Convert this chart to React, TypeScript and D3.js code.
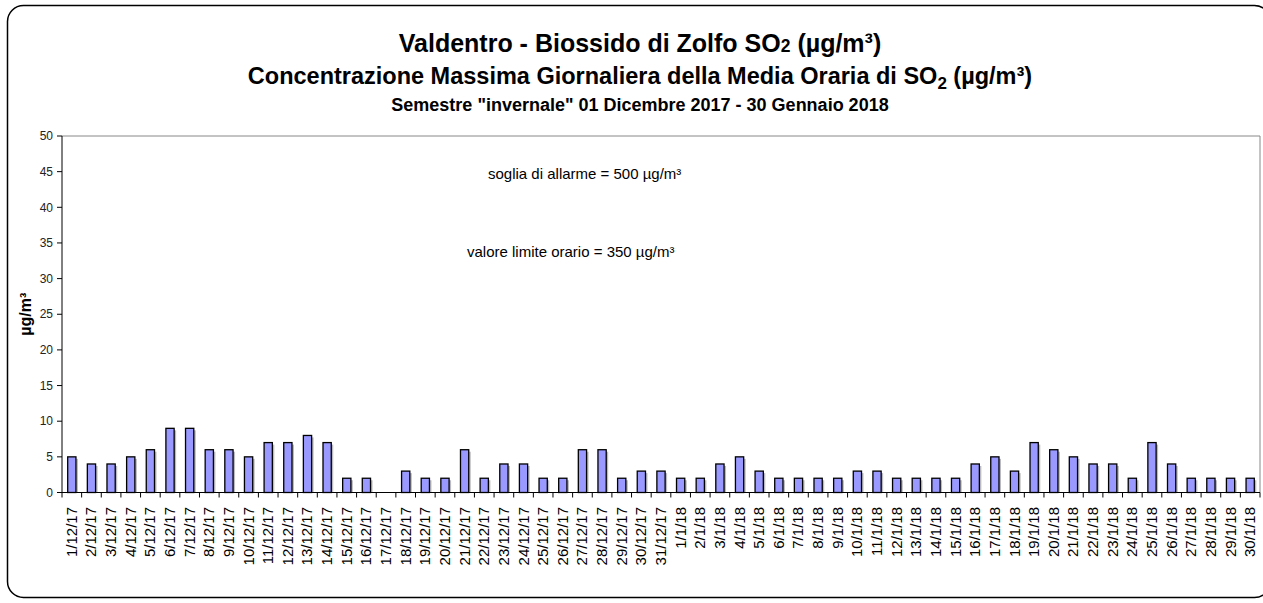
import React from "react";
import * as d3 from "d3";

const dates = [
  "1/12/17", "2/12/17", "3/12/17", "4/12/17", "5/12/17", "6/12/17", "7/12/17", "8/12/17",
  "9/12/17", "10/12/17", "11/12/17", "12/12/17", "13/12/17", "14/12/17", "15/12/17", "16/12/17",
  "17/12/17", "18/12/17", "19/12/17", "20/12/17", "21/12/17", "22/12/17", "23/12/17", "24/12/17",
  "25/12/17", "26/12/17", "27/12/17", "28/12/17", "29/12/17", "30/12/17", "31/12/17",
  "1/1/18", "2/1/18", "3/1/18", "4/1/18", "5/1/18", "6/1/18", "7/1/18", "8/1/18", "9/1/18",
  "10/1/18", "11/1/18", "12/1/18", "13/1/18", "14/1/18", "15/1/18", "16/1/18", "17/1/18",
  "18/1/18", "19/1/18", "20/1/18", "21/1/18", "22/1/18", "23/1/18", "24/1/18", "25/1/18",
  "26/1/18", "27/1/18", "28/1/18", "29/1/18", "30/1/18",
];

// max hourly SO2 per day (µg/m³); null = no data
const so2: (number | null)[] = [
  5, 4, 4, 5, 6, 9, 9, 6, 6, 5, 7, 7, 8, 7, 2, 2, null, 3, 2, 2, 6, 2, 4, 4, 2, 2, 6, 6, 2, 3, 3,
  2, 2, 4, 5, 3, 2, 2, 2, 2, 3, 3, 2, 2, 2, 2, 4, 5, 3, 7, 6, 5, 4, 4, 2, 7, 4, 2, 2, 2, 2,
];

const yTicks = [0, 5, 10, 15, 20, 25, 30, 35, 40, 45, 50];

const W = 1263;
const H = 603;
const left = 62;
const right = 1260;
const top = 136;
const bottom = 492.5;

export default function App() {
  const x = d3.scaleBand<string>().domain(dates).range([left, right]).padding(0);
  const y = d3.scaleLinear().domain([0, 50]).range([bottom, top]);
  const bw = x.bandwidth() * 0.42;
  const font = "Arial, 'Liberation Sans', sans-serif";

  return (
    <svg width={W} height={H} style={{ position: "absolute", left: 0, top: 0, fontFamily: font }}>
      <rect x={0} y={0} width={W} height={H} fill="#fff" />
      <rect x={7.5} y={5.5} width={1263} height={592} rx={16} fill="none" stroke="#000" strokeWidth={1.5} />

      <text x={640} y={52} textAnchor="middle" fontSize={25} fontWeight="bold">
        Valdentro - Biossido di Zolfo SO<tspan fontSize={17.5}>2</tspan> (µg/m³)
      </text>
      <text x={640} y={84} textAnchor="middle" fontSize={23.5} fontWeight="bold">
        Concentrazione Massima Giornaliera della Media Oraria di SO
        <tspan fontSize={17} dy={5}>2</tspan>
        <tspan dy={-5}> (µg/m³)</tspan>
      </text>
      <text x={640} y={111} textAnchor="middle" fontSize={18} fontWeight="bold">
        Semestre "invernale" 01 Dicembre 2017 - 30 Gennaio 2018
      </text>

      {/* plot frame */}
      <path d={`M${left},${top}H${right}V${bottom}`} fill="none" stroke="#888" strokeWidth={1} />

      <text x={488} y={179} fontSize={15}>soglia di allarme = 500 µg/m³</text>
      <text x={467} y={257} fontSize={15}>valore limite orario = 350 µg/m³</text>

      {/* bars */}
      {dates.map((d, i) => {
        const v = so2[i];
        if (v == null) return null;
        const cx = (x(d) as number) + x.bandwidth() / 2;
        const yv = y(v);
        return (
          <g key={d}>
            <rect x={cx - bw / 2 + 2} y={yv + 2} width={bw} height={bottom - yv - 2} fill="#bbb" />
            <rect x={cx - bw / 2} y={yv} width={bw} height={bottom - yv} fill="#9999ff" stroke="#000" strokeWidth={1.3} />
          </g>
        );
      })}

      {/* y axis */}
      <line x1={left} x2={left} y1={top} y2={bottom} stroke="#000" />
      {yTicks.map((t) => (
        <g key={t}>
          <line x1={left - 5} x2={left} y1={y(t)} y2={y(t)} stroke="#000" />
          <text x={left - 9} y={y(t)} dy="0.35em" textAnchor="end" fontSize={12} fill="#222">
            {t}
          </text>
        </g>
      ))}
      <text transform={`translate(31,${(top + bottom) / 2}) rotate(-90)`} textAnchor="middle" fontSize={16} fontWeight="bold">
        µg/m³
      </text>

      {/* x axis */}
      <line x1={left} x2={right} y1={bottom} y2={bottom} stroke="#000" />
      {dates.map((d) => (
        <line key={"t" + d} x1={x(d) as number} x2={x(d) as number} y1={bottom} y2={bottom + 5} stroke="#000" />
      ))}
      <line x1={right} x2={right} y1={bottom} y2={bottom + 5} stroke="#000" />
      {dates.map((d) => {
        const cx = (x(d) as number) + x.bandwidth() / 2;
        return (
          <text key={"l" + d} transform={`translate(${cx + 5},${507}) rotate(-90)`} textAnchor="end" fontSize={15}>
            {d}
          </text>
        );
      })}
    </svg>
  );
}
